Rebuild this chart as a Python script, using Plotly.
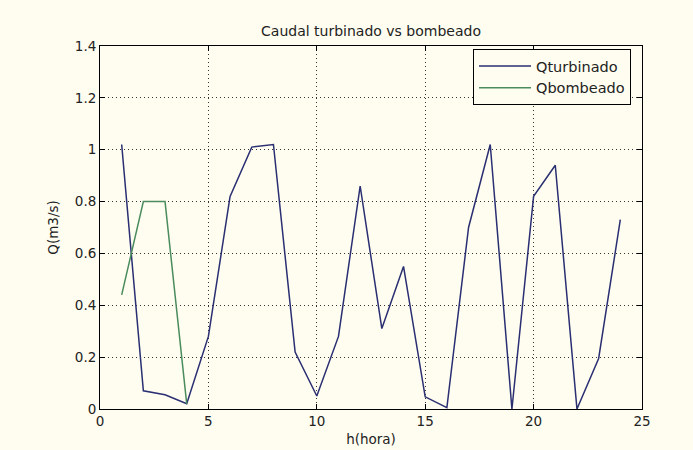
import plotly.graph_objects as go

# Hourly flows (m3/s)
horas = list(range(1, 25))
q_turbinado = [1.02, 0.07, 0.055, 0.02, 0.28, 0.82, 1.01, 1.02, 0.22, 0.05,
               0.28, 0.86, 0.31, 0.55, 0.047, 0.005, 0.70, 1.02, 0.0, 0.82,
               0.94, 0.0, 0.195, 0.73]
horas_bombeo = [1, 2, 3, 4]
q_bombeado = [0.44, 0.80, 0.80, 0.02]

x_ticks = [0, 5, 10, 15, 20, 25]
y_ticks = [0, 0.2, 0.4, 0.6, 0.8, 1, 1.2, 1.4]

BG = "#FFFDF0"
FONT = "DejaVu Sans"
TXT = dict(family=FONT, size=13.5, color="#222")

fig = go.Figure()
fig.add_trace(go.Scatter(x=horas, y=q_turbinado, mode="lines", name="Qturbinado",
                         line=dict(color="#2a2f72", width=1.5)))
fig.add_trace(go.Scatter(x=horas_bombeo, y=q_bombeado, mode="lines", name="Qbombeado",
                         line=dict(color="#4b8c5e", width=1.5)))

axis_common = dict(
    showline=True, linecolor="black", linewidth=1, mirror="ticks",
    ticks="inside", ticklen=5, tickcolor="black", tickwidth=1,
    showgrid=True, gridcolor="#333", gridwidth=1, griddash="1px,3px",
    zeroline=False, tickfont=TXT, automargin=False,
)

fig.update_layout(
    width=693, height=450,
    margin=dict(l=100, r=51, t=46, b=41),
    paper_bgcolor=BG, plot_bgcolor=BG,
    font=TXT,
    title=dict(text="Caudal turbinado vs bombeado", x=(100 + 642) / 2 / 693,
               xanchor="center", y=1 - 31 / 450, yanchor="middle",
               yref="container", font=dict(family=FONT, size=14, color="#222")),
    xaxis=dict(range=[0, 25], tickvals=x_ticks, ticktext=[str(v) for v in x_ticks],
               title=dict(text="h(hora)", standoff=6, font=TXT), **axis_common),
    yaxis=dict(range=[0, 1.4], tickvals=y_ticks, ticktext=[f"{v:g}" for v in y_ticks],
               title=dict(text="Q(m3/s)", standoff=13, font=TXT), **axis_common),
    legend=dict(x=(473 - 100) / 542, y=(409 - 49) / 363, xanchor="left", yanchor="top",
                bgcolor=BG, bordercolor="black", borderwidth=1,
                font=dict(family=FONT, size=14.5, color="#222"),
                itemwidth=52, tracegroupgap=0),
    showlegend=True,
)

fig.write_html("out.html")
